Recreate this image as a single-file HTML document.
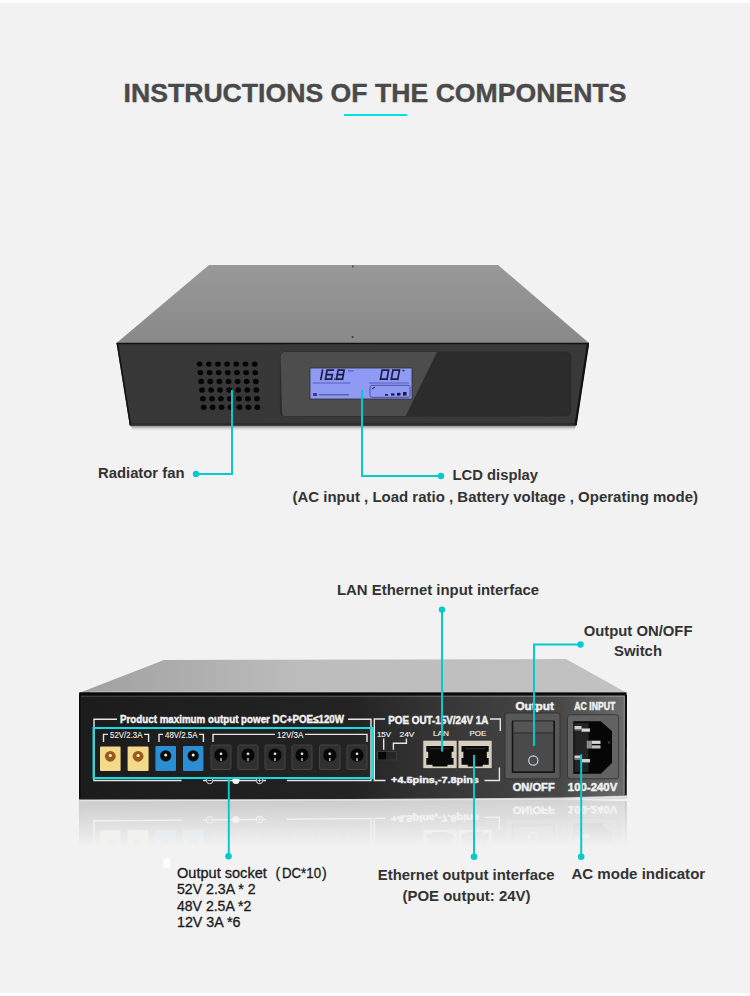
<!DOCTYPE html>
<html><head><meta charset="utf-8">
<style>
html,body{margin:0;padding:0;}
body{width:750px;height:996px;position:relative;overflow:hidden;background:#f2f2f2;font-family:"Liberation Sans",sans-serif;}
#top{position:absolute;left:0;top:0;width:750px;height:3px;background:#fff;}
#bot{position:absolute;left:0;top:993px;width:750px;height:3px;background:#fdfdfd;}
svg{position:absolute;left:0;top:0;}
text{font-family:"Liberation Sans",sans-serif;}
.lb{font-weight:bold;fill:#333;font-size:14.8px;}
.wt{font-weight:bold;fill:#f2f2f2;stroke:#f2f2f2;stroke-width:0.45px;}
</style></head>
<body>
<div id="top"></div>
<div id="bot"></div>
<svg width="750" height="996" viewBox="0 0 750 996">
<defs>
 <linearGradient id="top1" x1="0" y1="0" x2="0" y2="1">
  <stop offset="0" stop-color="#999"/>
  <stop offset="1" stop-color="#898989"/>
 </linearGradient>
 <linearGradient id="top1d" gradientUnits="userSpaceOnUse" x1="116" y1="343" x2="400" y2="265">
  <stop offset="0" stop-color="#000" stop-opacity="0.42"/>
  <stop offset="1" stop-color="#000" stop-opacity="0"/>
 </linearGradient>
 <linearGradient id="top2d" gradientUnits="userSpaceOnUse" x1="79" y1="694" x2="330" y2="620">
  <stop offset="0" stop-color="#000" stop-opacity="0.4"/>
  <stop offset="1" stop-color="#000" stop-opacity="0"/>
 </linearGradient>
 <linearGradient id="bev2" gradientUnits="userSpaceOnUse" x1="79" y1="0" x2="627" y2="0">
  <stop offset="0" stop-color="#3a3a3a"/>
  <stop offset="0.6" stop-color="#555"/>
  <stop offset="1" stop-color="#8a8a8a"/>
 </linearGradient>
 <linearGradient id="fade" x1="0" y1="0" x2="0" y2="1">
  <stop offset="0" stop-color="#f2f2f2" stop-opacity="0.8"/>
  <stop offset="0.42" stop-color="#f2f2f2" stop-opacity="1"/>
 </linearGradient>
 <linearGradient id="front1" x1="0" y1="0" x2="1" y2="0">
  <stop offset="0" stop-color="#373737"/>
  <stop offset="1" stop-color="#393939"/>
 </linearGradient>
 <linearGradient id="top2" gradientUnits="userSpaceOnUse" x1="79" y1="0" x2="627" y2="0">
  <stop offset="0" stop-color="#a0a0a0"/>
  <stop offset="0.4" stop-color="#bcbcbc"/>
  <stop offset="1" stop-color="#c2c2c2"/>
 </linearGradient>
 <linearGradient id="front2" gradientUnits="userSpaceOnUse" x1="79" y1="0" x2="627" y2="0">
  <stop offset="0" stop-color="#1c1c1c"/>
  <stop offset="0.5" stop-color="#232323"/>
  <stop offset="0.62" stop-color="#323232"/>
  <stop offset="0.73" stop-color="#3c3c3c"/>
  <stop offset="0.88" stop-color="#484848"/>
  <stop offset="0.95" stop-color="#5e5e5e"/>
  <stop offset="1" stop-color="#6c6c6c"/>
 </linearGradient>
 <linearGradient id="refl" x1="0" y1="0" x2="0" y2="1">
  <stop offset="0" stop-color="#c2c2c2"/>
  <stop offset="1" stop-color="#f2f2f2" stop-opacity="0"/>
 </linearGradient>
 <linearGradient id="shadow1" x1="0" y1="0" x2="0" y2="1">
  <stop offset="0" stop-color="#6a6a6a"/>
  <stop offset="1" stop-color="#f2f2f2" stop-opacity="0"/>
 </linearGradient>
</defs>

<!-- title -->
<text x="123.5" y="101.9" font-size="26.5" font-weight="bold" fill="#4a4a4a" textLength="503" lengthAdjust="spacingAndGlyphs" stroke="#4a4a4a" stroke-width="0.4">INSTRUCTIONS OF THE COMPONENTS</text>
<rect x="344" y="114" width="63" height="2" fill="#00dee6"/>

<!-- ===== Device 1 ===== -->
<polygon points="130,425 576,425 574,431.5 134,431.5" fill="url(#shadow1)"/>
<polygon points="209,265 498,265 589,343 116.5,343" fill="url(#top1)"/>
<circle cx="352.8" cy="266.4" r="0.9" fill="#444"/>
<circle cx="352.5" cy="337" r="1" fill="#333"/>
<polygon points="116.5,343 589,343 576.3,425.5 129.8,425.5" fill="url(#front1)"/>
<polygon points="129.5,423 576.6,423 576.3,425.5 129.8,425.5" fill="#2c2c2c"/>
<polyline points="116.5,343.5 589,343.5" stroke="#111" stroke-width="1.5"/>
<polyline points="117.5,344 130.5,425" stroke="#151515" stroke-width="1.6"/>
<polyline points="588,344 575.6,425" stroke="#111" stroke-width="2.2"/>
<!-- panel -->
<rect x="280.5" y="352" width="290" height="64" rx="5" fill="#2c2c2c" stroke="#2a2a2a" stroke-width="1.2"/>
<path d="M285,352 L437,352 L405.6,416 L285,416 Q282,416 282,412 L280.5,357 Q280.5,352 285,352 Z" fill="#4d4d4d"/>
<!-- LCD -->
<rect x="310" y="368" width="102" height="31" fill="#8e9af4" stroke="#2e2e28" stroke-width="0.8"/>
<rect x="348" y="370.3" width="6" height="1.2" fill="#5a62b8"/><rect x="402.5" y="369.8" width="2" height="1.5" fill="#2a2a5a"/>
<path d="M322.5,370.2 L321.7,374.7 M321.7,374.7 L320.9,379.2 M327.1,370.2 L333.1,370.2 M332.3,374.7 L331.5,379.2 M325.5,379.2 L331.5,379.2 M326.3,374.7 L325.5,379.2 M327.1,370.2 L326.3,374.7 M326.3,374.7 L332.3,374.7 M338.1,370.2 L344.1,370.2 M344.1,370.2 L343.3,374.7 M343.3,374.7 L342.5,379.2 M336.5,379.2 L342.5,379.2 M337.3,374.7 L336.5,379.2 M338.1,370.2 L337.3,374.7 M337.3,374.7 L343.3,374.7 M382.1,370.2 L388.6,370.2 M388.6,370.2 L387.8,374.7 M387.8,374.7 L387.0,379.2 M380.5,379.2 L387.0,379.2 M381.3,374.7 L380.5,379.2 M382.1,370.2 L381.3,374.7 M392.9,370.2 L399.4,370.2 M399.4,370.2 L398.6,374.7 M398.6,374.7 L397.8,379.2 M391.3,379.2 L397.8,379.2 M392.1,374.7 L391.3,379.2 M392.9,370.2 L392.1,374.7 " stroke="#1e1e48" stroke-width="1.7" fill="none" stroke-linecap="square"/><rect x="334" y="378.4" width="1.5" height="1.5" fill="#20204a"/>
<rect x="312.5" y="382.6" width="38" height="0.8" fill="#4a50a0"/>
<rect x="369" y="382.6" width="40" height="0.8" fill="#4a50a0"/>
<rect x="370" y="385.3" width="40" height="12" rx="2" fill="none" stroke="#3a4090" stroke-width="0.8"/>
<rect x="313" y="393" width="4" height="3" fill="#3a4090"/>
<rect x="319" y="394" width="30" height="1.5" fill="#5a60b0"/>
<rect x="385" y="394" width="3" height="1.6" fill="#1c1c3a"/>
<rect x="391" y="393.4" width="3.5" height="2.2" fill="#1c1c3a"/>
<rect x="397" y="392.8" width="3.5" height="2.8" fill="#1c1c3a"/>
<rect x="403" y="392" width="3.5" height="3.6" fill="#1c1c3a"/>
<path d="M372,389 l3,-2" stroke="#1c1c3a" stroke-width="1"/>

<!-- fan grill -->
<g fill="#050505"><ellipse cx="199.6" cy="364.1" rx="2.9" ry="2.7"/><ellipse cx="208.8" cy="364.1" rx="2.9" ry="2.7"/><ellipse cx="218.0" cy="364.1" rx="2.9" ry="2.7"/><ellipse cx="227.1" cy="364.1" rx="2.9" ry="2.7"/><ellipse cx="236.3" cy="364.1" rx="2.9" ry="2.7"/><ellipse cx="245.5" cy="364.1" rx="2.9" ry="2.7"/><ellipse cx="254.7" cy="364.1" rx="2.9" ry="2.7"/><ellipse cx="200.4" cy="372.6" rx="2.9" ry="2.7"/><ellipse cx="209.6" cy="372.6" rx="2.9" ry="2.7"/><ellipse cx="218.7" cy="372.6" rx="2.9" ry="2.7"/><ellipse cx="227.8" cy="372.6" rx="2.9" ry="2.7"/><ellipse cx="237.0" cy="372.6" rx="2.9" ry="2.7"/><ellipse cx="246.1" cy="372.6" rx="2.9" ry="2.7"/><ellipse cx="255.2" cy="372.6" rx="2.9" ry="2.7"/><ellipse cx="201.2" cy="381.5" rx="2.9" ry="2.7"/><ellipse cx="210.3" cy="381.5" rx="2.9" ry="2.7"/><ellipse cx="219.4" cy="381.5" rx="2.9" ry="2.7"/><ellipse cx="228.5" cy="381.5" rx="2.9" ry="2.7"/><ellipse cx="237.6" cy="381.5" rx="2.9" ry="2.7"/><ellipse cx="246.7" cy="381.5" rx="2.9" ry="2.7"/><ellipse cx="255.8" cy="381.5" rx="2.9" ry="2.7"/><ellipse cx="202.1" cy="390.0" rx="2.9" ry="2.7"/><ellipse cx="211.1" cy="390.0" rx="2.9" ry="2.7"/><ellipse cx="220.1" cy="390.0" rx="2.9" ry="2.7"/><ellipse cx="229.2" cy="390.0" rx="2.9" ry="2.7"/><ellipse cx="238.2" cy="390.0" rx="2.9" ry="2.7"/><ellipse cx="247.3" cy="390.0" rx="2.9" ry="2.7"/><ellipse cx="256.3" cy="390.0" rx="2.9" ry="2.7"/><ellipse cx="202.9" cy="398.7" rx="2.9" ry="2.7"/><ellipse cx="211.9" cy="398.7" rx="2.9" ry="2.7"/><ellipse cx="220.9" cy="398.7" rx="2.9" ry="2.7"/><ellipse cx="229.9" cy="398.7" rx="2.9" ry="2.7"/><ellipse cx="238.9" cy="398.7" rx="2.9" ry="2.7"/><ellipse cx="247.9" cy="398.7" rx="2.9" ry="2.7"/><ellipse cx="256.9" cy="398.7" rx="2.9" ry="2.7"/><ellipse cx="203.7" cy="407.3" rx="2.9" ry="2.7"/><ellipse cx="212.6" cy="407.3" rx="2.9" ry="2.7"/><ellipse cx="221.6" cy="407.3" rx="2.9" ry="2.7"/><ellipse cx="230.5" cy="407.3" rx="2.9" ry="2.7"/><ellipse cx="239.5" cy="407.3" rx="2.9" ry="2.7"/><ellipse cx="248.4" cy="407.3" rx="2.9" ry="2.7"/><ellipse cx="257.4" cy="407.3" rx="2.9" ry="2.7"/></g>

<!-- device 1 callouts -->
<g stroke="#06c9cc" stroke-width="2" fill="none">
 <polyline points="232,390 232,474 196,474"/>
 <polyline points="362,390 362,476 441,476"/>
</g>
<circle cx="196" cy="474" r="3.2" fill="#06c9cc"/>
<circle cx="441" cy="476" r="3.2" fill="#06c9cc"/>
<text class="lb" x="98" y="478" textLength="86.5" lengthAdjust="spacingAndGlyphs">Radiator fan</text>
<text class="lb" x="452.5" y="480" textLength="85.5" lengthAdjust="spacingAndGlyphs">LCD display</text>
<text class="lb" x="292.5" y="502.3" textLength="405.5" lengthAdjust="spacingAndGlyphs">(AC input , Load ratio , Battery voltage , Operating mode)</text>

<!-- ===== Device 2 ===== -->
<polygon points="164,660 566,659 627,693 79,693" fill="url(#top2)"/>
<g id="f2">
<polygon points="79,692.5 627,692.5 626.5,795.3 560,797.6 350,799 79,799.5" fill="url(#front2)"/>
<polyline points="80,694 626,694" stroke="#0a0a0a" stroke-width="3"/>
<polyline points="81,696.3 625,696.3" stroke="url(#bev2)" stroke-width="1.2"/>
<polyline points="90,691.6 620,691.6" stroke="#c8c8c8" stroke-width="1" opacity="0.6"/>
<polyline points="626,695 625.6,795" stroke="#0c0c0c" stroke-width="2"/>
<polyline points="624.3,697 624,794" stroke="#8e8e8e" stroke-width="1"/>
<polyline points="79.8,695 79.8,799" stroke="#0c0c0c" stroke-width="1.5"/>

<!-- white brackets -->
<g stroke="#e6e6e6" stroke-width="1.4" fill="none">
 <polyline points="117,719.2 94,719.2 94,780.5 181.5,780.5"/>
 <polyline points="348,719.2 371,719.2 371,780.5 287,780.5"/>
 <polyline points="103.5,742 103.5,734.4 108,734.4"/>
 <polyline points="144,734.4 148.6,734.4 148.6,742"/>
 <polyline points="159,742 159,734.4 163,734.4"/>
 <polyline points="199,734.4 203.4,734.4 203.4,742"/>
 <polyline points="213,742 213,734.4 275,734.4"/>
 <polyline points="305,734.4 367,734.4 367,742"/>
 <polyline points="385,719 374.3,719 374.3,780.5 385.5,780.5"/>
 <polyline points="490,719 500.3,719 500.3,731"/>
 <polyline points="484.5,780.5 499.4,780.5 499.4,767.5"/>
 <polyline points="383.7,738.5 383.7,749.7"/>
 <polyline points="406.4,738.5 406.4,743.2 393.4,743.2 393.4,749.7"/>
 <polyline points="203,780.5 266,780.5"/>
</g>
<g fill="none" stroke="#ddd" stroke-width="1">
 <circle cx="209.6" cy="780.5" r="3.2" fill="#1a1a1a"/>
 <circle cx="259.5" cy="780.5" r="3.2" fill="#1d1d1d"/>
</g>
<circle cx="235.9" cy="780.5" r="3.6" fill="#f4f4f4"/>
<path d="M207.6,780.5 h4 M257.5,780.5 h4 M259.5,778.5 v4" stroke="#ddd" stroke-width="0.9"/>

<text class="wt" x="120" y="723.2" font-size="11" textLength="224" lengthAdjust="spacingAndGlyphs">Product maximum output power DC+POE≤120W</text>
<text class="wt" style="stroke-width:0.1px;font-weight:normal" x="110" y="738.2" font-size="8.5" font-weight="normal" textLength="32.5" lengthAdjust="spacingAndGlyphs">52V/2.3A</text>
<text class="wt" style="stroke-width:0.1px;font-weight:normal" x="165" y="738.2" font-size="8.5" font-weight="normal" textLength="32.5" lengthAdjust="spacingAndGlyphs">48V/2.5A</text>
<text class="wt" style="stroke-width:0.1px;font-weight:normal" x="277" y="738.2" font-size="8.5" font-weight="normal" textLength="26.5" lengthAdjust="spacingAndGlyphs">12V/3A</text>

<!-- yellow / blue sockets -->
<rect x="100" y="746.4" width="20.6" height="24.6" rx="1" fill="#f4d98a"/>
<rect x="127.6" y="746.4" width="21" height="24.6" rx="1" fill="#f4d98a"/>
<circle cx="110.3" cy="756.3" r="5.4" fill="#9a5a18"/><circle cx="110.3" cy="755.5" r="1.6" fill="#eee"/>
<circle cx="138.1" cy="756.3" r="5.4" fill="#9a5a18"/><circle cx="138.1" cy="755.5" r="1.6" fill="#eee"/>
<rect x="155.4" y="746" width="20.6" height="25" rx="1" fill="#2a8ed4"/>
<rect x="183" y="746" width="20.4" height="25" rx="1" fill="#2a8ed4"/>
<circle cx="165.7" cy="755.8" r="5.6" fill="#0a0a0a"/><circle cx="165.7" cy="755" r="1.5" fill="#eee"/>
<circle cx="193.2" cy="755.8" r="5.6" fill="#0a0a0a"/><circle cx="193.2" cy="755" r="1.5" fill="#eee"/>
<rect x="211" y="745" width="20" height="24.5" rx="1.5" fill="#303030" stroke="#484848" stroke-width="0.9"/><circle cx="221.0" cy="755" r="6.6" fill="#070707"/><circle cx="221.0" cy="753.8" r="1.4" fill="#ddd"/><rect x="220.2" y="758" width="1.6" height="3" fill="#aaa"/><rect x="238" y="745" width="20" height="24.5" rx="1.5" fill="#303030" stroke="#484848" stroke-width="0.9"/><circle cx="248.0" cy="755" r="6.6" fill="#070707"/><circle cx="248.0" cy="753.8" r="1.4" fill="#ddd"/><rect x="247.2" y="758" width="1.6" height="3" fill="#aaa"/><rect x="265" y="745" width="20" height="24.5" rx="1.5" fill="#303030" stroke="#484848" stroke-width="0.9"/><circle cx="275.0" cy="755" r="6.6" fill="#070707"/><circle cx="275.0" cy="753.8" r="1.4" fill="#ddd"/><rect x="274.2" y="758" width="1.6" height="3" fill="#aaa"/><rect x="292" y="745" width="20" height="24.5" rx="1.5" fill="#303030" stroke="#484848" stroke-width="0.9"/><circle cx="302.0" cy="755" r="6.6" fill="#070707"/><circle cx="302.0" cy="753.8" r="1.4" fill="#ddd"/><rect x="301.2" y="758" width="1.6" height="3" fill="#aaa"/><rect x="319.5" y="745" width="20.5" height="24.5" rx="1.5" fill="#303030" stroke="#484848" stroke-width="0.9"/><circle cx="329.75" cy="755" r="6.6" fill="#070707"/><circle cx="329.75" cy="753.8" r="1.4" fill="#ddd"/><rect x="328.95" y="758" width="1.6" height="3" fill="#aaa"/><rect x="347" y="745" width="20" height="24.5" rx="1.5" fill="#303030" stroke="#484848" stroke-width="0.9"/><circle cx="357.0" cy="755" r="6.6" fill="#070707"/><circle cx="357.0" cy="753.8" r="1.4" fill="#ddd"/><rect x="356.2" y="758" width="1.6" height="3" fill="#aaa"/>

<!-- POE section -->
<text class="wt" x="388.3" y="723.6" font-size="10" textLength="100" lengthAdjust="spacingAndGlyphs">POE OUT-15V/24V 1A</text>
<text class="wt" style="stroke-width:0.15px;font-weight:normal" x="377" y="736.7" font-size="7.5" font-weight="normal" textLength="14" lengthAdjust="spacingAndGlyphs">15V</text>
<text class="wt" style="stroke-width:0.15px;font-weight:normal" x="399.5" y="736.7" font-size="7.5" font-weight="normal" textLength="15" lengthAdjust="spacingAndGlyphs">24V</text>
<text class="wt" style="stroke-width:0.15px;font-weight:normal" x="433" y="735.7" font-size="7.5" font-weight="normal" textLength="16" lengthAdjust="spacingAndGlyphs">LAN</text>
<text class="wt" style="stroke-width:0.15px;font-weight:normal" x="469.5" y="735.7" font-size="7.5" font-weight="normal" textLength="16.8" lengthAdjust="spacingAndGlyphs">POE</text>
<text class="wt" x="391.1" y="783.3" font-size="9.5" textLength="87.8" lengthAdjust="spacingAndGlyphs">+4.5pins,-7.8pins</text>
<rect x="377" y="751" width="19.7" height="9.2" fill="#4a4438"/>
<rect x="378" y="751.8" width="8.5" height="7.8" fill="#080808"/>
<rect x="386.5" y="751.8" width="9.5" height="7.8" fill="#262626"/>
<!-- RJ45 -->
<rect x="422.9" y="740.3" width="34.1" height="28.3" rx="1" fill="#d6cebf" stroke="#222" stroke-width="0.6"/>
<rect x="458.1" y="740.3" width="34" height="28.3" rx="1" fill="#d6cebf" stroke="#222" stroke-width="0.6"/>
<path d="M426.3,746 H453.5 V751.8 H451.6 V758 H453.5 V764.7 H447.5 V766.4 H432.5 V764.7 H426.3 V758 H428.2 V751.8 H426.3 Z" fill="#0a0a0a"/>
<path d="M461.5,746 H488.7 V751.8 H486.8 V758 H488.7 V764.7 H482.7 V766.4 H467.7 V764.7 H461.5 V758 H463.4 V751.8 H461.5 Z" fill="#0a0a0a"/>
<rect x="430" y="748" width="20" height="1.2" fill="#2a2a2a"/>
<rect x="465.2" y="748" width="20" height="1.2" fill="#2a2a2a"/>

<!-- switch -->
<text class="wt" x="515.5" y="709.6" font-size="10.5" textLength="38.3" lengthAdjust="spacingAndGlyphs">Output</text>
<text class="wt" x="574.3" y="709.6" font-size="10.5" textLength="41" lengthAdjust="spacingAndGlyphs">AC INPUT</text>
<text class="wt" x="512.7" y="790.8" font-size="10.5" textLength="42" lengthAdjust="spacingAndGlyphs">ON/OFF</text>
<text class="wt" x="567.8" y="790.8" font-size="10.5" textLength="49.5" lengthAdjust="spacingAndGlyphs">100-240V</text>
<rect x="505" y="713" width="55" height="65.8" rx="2.5" fill="#585858" stroke="#2e2e2e" stroke-width="0.8"/>
<rect x="511.7" y="720.5" width="43.3" height="52.5" rx="1" fill="#151515"/>
<rect x="513.3" y="721.3" width="40" height="11.7" fill="#555"/>
<rect x="513.3" y="733" width="40" height="38.3" fill="#4a4a4a"/>
<rect x="513.3" y="732.5" width="40" height="1" fill="#2a2a2a"/>
<circle cx="533.3" cy="760.5" r="4.6" fill="none" stroke="#c6d6f0" stroke-width="1.1"/>
<!-- AC inlet -->
<rect x="567.5" y="714.7" width="51.2" height="64.1" rx="3" fill="#626262" stroke="#2e2e2e" stroke-width="0.8"/>
<path d="M573.3,721.3 L600.8,721.3 L612,731.3 L612,763 L600.8,773.8 L573.3,773.8 Z" fill="#060606"/>
<rect x="574.5" y="723" width="14" height="49" fill="#242424"/>
<rect x="574.5" y="726" width="7" height="3" fill="#cfcfcf"/><rect x="581.5" y="728.5" width="8.5" height="3.2" fill="#d8d8d8"/><rect x="574.5" y="729" width="7" height="1.5" fill="#777"/>
<rect x="586.7" y="740.7" width="5" height="7.8" fill="#8a8a8a"/><rect x="591.7" y="740.7" width="8.8" height="3.2" fill="#d6d6d6"/><rect x="591.7" y="745.3" width="8.8" height="3.2" fill="#c0c0c0"/>
<rect x="574.5" y="755.5" width="7" height="3" fill="#cfcfcf"/><rect x="581.5" y="759" width="8.5" height="3.4" fill="#d0d0d0"/><rect x="574.5" y="758.5" width="7" height="1.5" fill="#777"/>
<circle cx="609" cy="742.5" r="1.3" fill="#3a3a3a"/>
</g>
<use href="#f2" transform="matrix(1,-0.00912,0,-1,0,1602.3)"/>
<polygon points="79,798 350,797.8 560,796.8 627,794.8 627,799 79,803" fill="url(#front2)"/>
<polygon points="60,799.5 350,799 560,797.6 640,795.3 640,917 60,917" fill="url(#fade)"/>
<polyline points="80,800.6 350,800.2 560,799 626,796.8" stroke="#e4e4e4" stroke-width="1.2" fill="none"/>

<!-- device 2 callouts -->
<rect x="93.5" y="728" width="279.5" height="50" fill="none" stroke="#12dde5" stroke-width="2"/>
<g stroke="#06c9cc" stroke-width="2" fill="none">
 <polyline points="442,610 442,751.6"/>
 <polyline points="580.3,644.5 534,644.5 534,746"/>
 <polyline points="228.8,778 228.8,856.5"/>
 <polyline points="474,755 474,856.7"/>
 <polyline points="581.2,754.4 581.2,856.7"/>
</g>
<circle cx="442" cy="609.6" r="3.2" fill="#06c9cc"/>
<circle cx="580.5" cy="644.5" r="3.2" fill="#06c9cc"/>
<circle cx="228.5" cy="856.3" r="3.3" fill="#06c9cc"/>
<circle cx="474" cy="856.7" r="3.3" fill="#06c9cc"/>
<circle cx="581.2" cy="856.7" r="3.3" fill="#06c9cc"/>

<text class="lb" x="337" y="595" textLength="202" lengthAdjust="spacingAndGlyphs">LAN Ethernet input interface</text>
<text class="lb" x="583.7" y="636.1" textLength="108.8" lengthAdjust="spacingAndGlyphs">Output ON/OFF</text>
<text class="lb" x="614" y="655.7" textLength="48" lengthAdjust="spacingAndGlyphs">Switch</text>
<text class="lb" x="377.8" y="879.8" textLength="176.8" lengthAdjust="spacingAndGlyphs">Ethernet output interface</text>
<text class="lb" x="402.5" y="900.5" textLength="128" lengthAdjust="spacingAndGlyphs">(POE output: 24V)</text>
<text class="lb" x="571.4" y="879.2" textLength="133.8" lengthAdjust="spacingAndGlyphs">AC mode indicator</text>

<rect x="163.6" y="858.6" width="6.4" height="9" fill="#fff"/>
<g font-size="14" fill="#1a1a1a" stroke="#1a1a1a" stroke-width="0.3">
<text x="177" y="878.3" textLength="89.8" lengthAdjust="spacingAndGlyphs">Output socket</text><text x="275.5" y="878.3">(</text><text x="282" y="878.3" textLength="39" lengthAdjust="spacingAndGlyphs">DC*10</text><text x="322" y="878.3">)</text>
<text x="177" y="894.1" textLength="78.5" lengthAdjust="spacingAndGlyphs">52V 2.3A * 2</text>
<text x="177" y="910.7" textLength="74.2" lengthAdjust="spacingAndGlyphs">48V 2.5A *2</text>
<text x="177" y="927" textLength="63.4" lengthAdjust="spacingAndGlyphs">12V 3A *6</text>
</g>
</svg>
</body></html>
